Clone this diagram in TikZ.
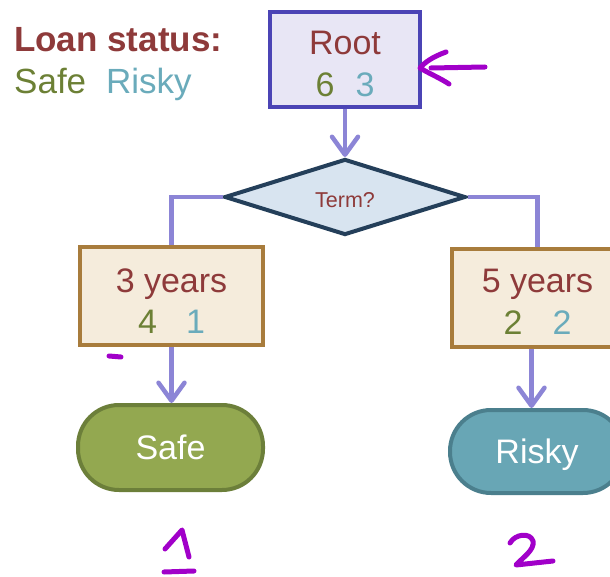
\documentclass[tikz,border=0pt]{standalone}
\usepackage{fontspec}
\setmainfont{Liberation Sans}
\usetikzlibrary{shapes.geometric,arrows.meta}

\definecolor{txtred}{HTML}{8E3A3A}
\definecolor{safegreen}{HTML}{6C8035}
\definecolor{riskyteal}{HTML}{6AABBB}
\definecolor{rootedge}{HTML}{4B44B5}
\definecolor{rootfill}{HTML}{E8E6F5}
\definecolor{linkcol}{HTML}{8C85D6}
\definecolor{decfill}{HTML}{D8E4F0}
\definecolor{decedge}{HTML}{243F5A}
\definecolor{leaffill}{HTML}{F5ECDC}
\definecolor{leafedge}{HTML}{A87C3C}
\definecolor{safefill}{HTML}{93A850}
\definecolor{safeedge}{HTML}{6C7F3A}
\definecolor{riskyfill}{HTML}{68A6B5}
\definecolor{riskyedge}{HTML}{4B7F8D}
\definecolor{ink}{HTML}{A100C9}

\tikzset{
  big/.style={font=\fontsize{34}{40}\selectfont},
  rootbox/.style={draw=rootedge, fill=rootfill, line width=4pt,
    minimum width=150pt, minimum height=95pt, inner sep=0pt},
  splitbox/.style={draw=leafedge, fill=leaffill, line width=4.5pt,
    minimum width=183pt, minimum height=98pt, inner sep=0pt},
  decision/.style={diamond, draw=decedge, fill=decfill, line width=4pt,
    minimum width=241pt, minimum height=76pt, inner sep=0pt,
    text=txtred, font=\fontsize{21.5}{24}\selectfont},
  outcome/.style={rectangle, rounded corners=41pt, line width=4pt,
    inner sep=0pt, text=white, text depth=0pt, big},
  link/.style={draw=linkcol, line width=4.5pt},
  arrowlink/.style={link, -{Straight Barb[length=18pt,width=26pt,round]}},
  pen/.style={draw=ink, line width=5pt, line cap=round, line join=round}
}

\begin{document}
\begin{tikzpicture}[x=1pt,y=-1pt]
\useasboundingbox (0,0) rectangle (610,577);
\clip (0,0) rectangle (610,577);

% legend
\node[anchor=base west, inner sep=0pt, text=txtred,
  font=\fontsize{35}{40}\selectfont\bfseries] (legendtitle) at (14,52) {Loan status:};
\node[anchor=base west, inner sep=0pt, text=safegreen,
  font=\fontsize{35}{40}\selectfont] (legendsafe) at (14,94) {Safe};
\node[anchor=base west, inner sep=0pt, text=riskyteal,
  font=\fontsize{35}{40}\selectfont] (legendrisky) at (106,94) {Risky};

% root node
\node[rootbox] (root) at (345,59.5) {};
\node[big, anchor=base, inner sep=0pt, text=txtred] (rootname) at (345,55) {Root};
\node[big, anchor=base, inner sep=0pt] (rootcount) at (345,97)
  {\textcolor{safegreen}{6}\hspace{21pt}\textcolor{riskyteal}{3}};

% split on term
\node[decision] (term) at (345,197) {\raisebox{-3pt}[\height][\depth]{Term?}};

% branches
\node[splitbox] (three) at (171.5,296) {};
\node[big, anchor=base, inner sep=0pt, text=txtred] (threename) at (171.5,292) {3 years};
\node[big, anchor=base, inner sep=0pt] (threecount) at (171.5,333)
  {\textcolor{safegreen}{4}\hspace{29pt}\textcolor{riskyteal}{1}};

\node[splitbox, minimum width=171pt] (five) at (537.5,298) {};
\node[big, anchor=base, inner sep=0pt, text=txtred] (fivename) at (537.5,292) {5 years};
\node[big, anchor=base, inner sep=0pt] (fivecount) at (537.5,334)
  {\textcolor{safegreen}{2}\hspace{30pt}\textcolor{riskyteal}{2}};

% predictions
\node[outcome, draw=safeedge, fill=safefill, minimum width=185pt, minimum height=85pt]
  (safe) at (170.5,447.5) {Safe};
\node[outcome, draw=riskyedge, fill=riskyfill, minimum width=174pt, minimum height=83pt]
  (risky) at (537,451.5) {Risky};

% connectors
\draw[arrowlink] (root.south) -- (term.north);
\draw[link] (term.west) -| (three.north);
\draw[link] (term.east) -| (five.north);
\draw[arrowlink] (three.south) -- (safe.north -| three.south);
\draw[arrowlink] ([xshift=-6pt]five.south) -- ([xshift=-6pt]five.south |- risky.north);

% pen marks
\draw[pen] (485,67) -- (431,68);
\draw[pen] (446,52) .. controls (432,57) and (424,63) .. (420,68)
  .. controls (430,74) and (440,78) .. (449,84);
\draw[pen] (109,356) -- (121,357);
\draw[pen] (165,549) -- (182,530) -- (189,557);
\draw[pen] (164,572) -- (194,571);
\draw[pen] (510,543) .. controls (515,534) and (530,532) .. (533,541)
  .. controls (535,550) and (522,558) .. (516,565) -- (553,561);
\end{tikzpicture}
\end{document}
